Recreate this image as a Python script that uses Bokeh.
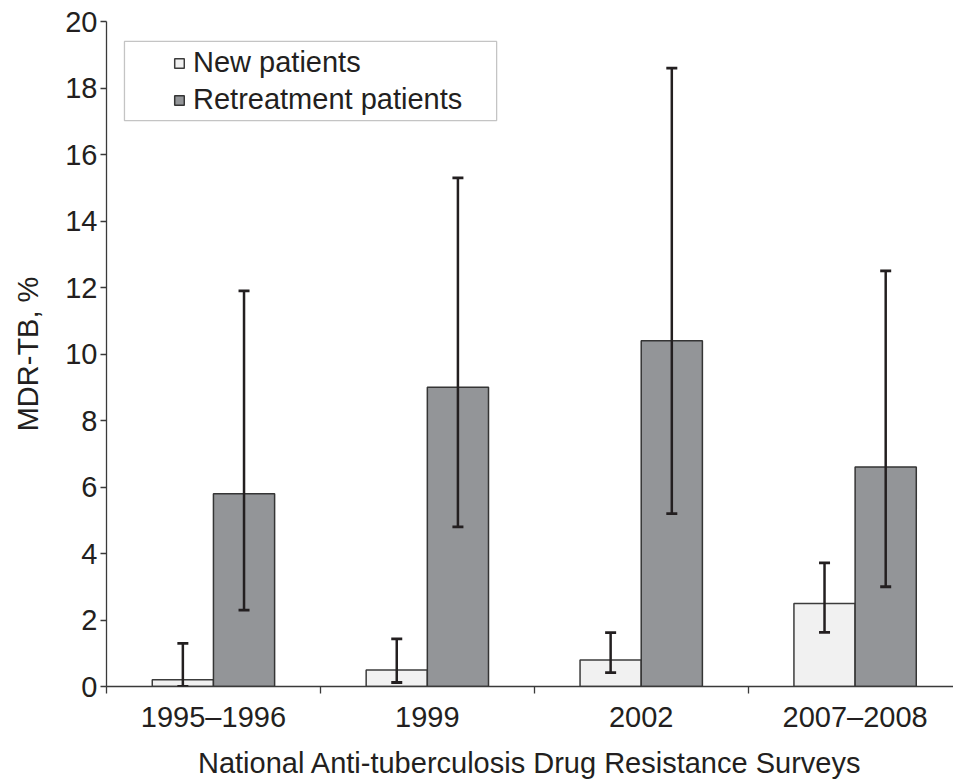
from bokeh.plotting import figure
from bokeh.models import (ColumnDataSource, Whisker, TeeHead, FixedTicker, Range1d,
                          BoxAnnotation, Legend, LegendItem)
from bokeh.embed import file_html
from bokeh.resources import INLINE

# ---- data ----
surveys = ["1995\u20131996", "1999", "2002", "2007\u20132008"]
new_vals = [0.2, 0.5, 0.8, 2.5]
new_lo = [0.0, 0.12, 0.42, 1.63]
new_hi = [1.3, 1.43, 1.62, 3.72]
ret_vals = [5.8, 9.0, 10.4, 6.6]
ret_lo = [2.3, 4.8, 5.2, 3.0]
ret_hi = [11.9, 15.3, 18.6, 12.5]
y_ticks = [0, 2, 4, 6, 8, 10, 12, 14, 16, 18, 20]

FONT = "Liberation Sans"
TXT = "#231f20"
BW = 0.286

n = len(surveys)
centers = [i + 0.5 for i in range(n)]
x_new = [c - BW / 2 for c in centers]
x_ret = [c + BW / 2 for c in centers]

src_new = ColumnDataSource(dict(x=x_new, top=new_vals, lo=new_lo, hi=new_hi))
src_ret = ColumnDataSource(dict(x=x_ret, top=ret_vals, lo=ret_lo, hi=ret_hi))

p = figure(width=953, height=781, output_backend="svg", toolbar_location=None,
           x_range=Range1d(0, 3.96), y_range=Range1d(0, 20),
           min_border_left=106, min_border_right=0, min_border_top=21, min_border_bottom=60)
p.outline_line_color = None
p.xgrid.visible = False
p.ygrid.visible = False
p.background_fill_color = "white"

# legend box
box = BoxAnnotation(left=0.084, right=1.824, bottom=17.02, top=19.40,
                    fill_color="white", fill_alpha=1.0,
                    line_color="#3a3a3a", line_width=1.3, level="underlay")
p.add_layout(box)

r_new = p.vbar(x="x", top="top", bottom=0, width=BW, source=src_new,
               fill_color="#f1f1f1", line_color="#3c3c3c", line_width=1.5)
r_ret = p.vbar(x="x", top="top", bottom=0, width=BW, source=src_ret,
               fill_color="#939598", line_color="#353535", line_width=1.5)

for src in (src_new, src_ret):
    w = Whisker(base="x", lower="lo", upper="hi", source=src,
                line_color=TXT, line_width=2.5, level="overlay",
                upper_head=TeeHead(size=11, line_color=TXT, line_width=2.8),
                lower_head=TeeHead(size=11, line_color=TXT, line_width=2.8))
    p.add_layout(w)

# axes
xa = p.xaxis[0]
xa.ticker = FixedTicker(ticks=centers, minor_ticks=list(range(n + 1)))
xa.major_label_overrides = {c: s for c, s in zip(centers, surveys)}
xa.major_tick_out = 0
xa.major_tick_in = 0
xa.minor_tick_out = 7
xa.minor_tick_in = 0
xa.minor_tick_line_color = "#3a3a3a"
xa.minor_tick_line_width = 1.3
xa.axis_line_color = "#3a3a3a"
xa.axis_line_width = 1.3
xa.major_label_standoff = 7
xa.major_label_text_font = FONT
xa.major_label_text_font_size = "29px"
xa.major_label_text_color = TXT
xa.axis_label = "National Anti-tuberculosis Drug Resistance Surveys"
xa.axis_label_text_font = FONT
xa.axis_label_text_font_size = "29px"
xa.axis_label_text_font_style = "normal"
xa.axis_label_text_color = TXT
xa.axis_label_standoff = 11

ya = p.yaxis[0]
ya.ticker = FixedTicker(ticks=y_ticks, minor_ticks=[])
ya.major_tick_out = 6
ya.major_tick_in = 0
ya.major_tick_line_color = "#3a3a3a"
ya.major_tick_line_width = 1.3
ya.axis_line_color = "#3a3a3a"
ya.axis_line_width = 1.3
ya.major_label_standoff = 3
ya.major_label_text_font = FONT
ya.major_label_text_font_size = "29px"
ya.major_label_text_color = TXT
ya.axis_label = "MDR-TB, %"
ya.axis_label_text_font = FONT
ya.axis_label_text_font_size = "29px"
ya.axis_label_text_font_style = "normal"
ya.axis_label_text_color = TXT
ya.axis_label_standoff = 18

legend = Legend(items=[LegendItem(label="New patients", renderers=[r_new]),
                       LegendItem(label="Retreatment patients", renderers=[r_ret])],
                location=(67, 570), padding=0, spacing=4,
                glyph_width=12, glyph_height=12, label_height=30, label_standoff=8,
                label_text_font=FONT, label_text_font_size="29px", label_text_color=TXT,
                border_line_alpha=0, background_fill_alpha=0)
p.add_layout(legend, "center")

open("out.html", "w").write(file_html(p, INLINE))
